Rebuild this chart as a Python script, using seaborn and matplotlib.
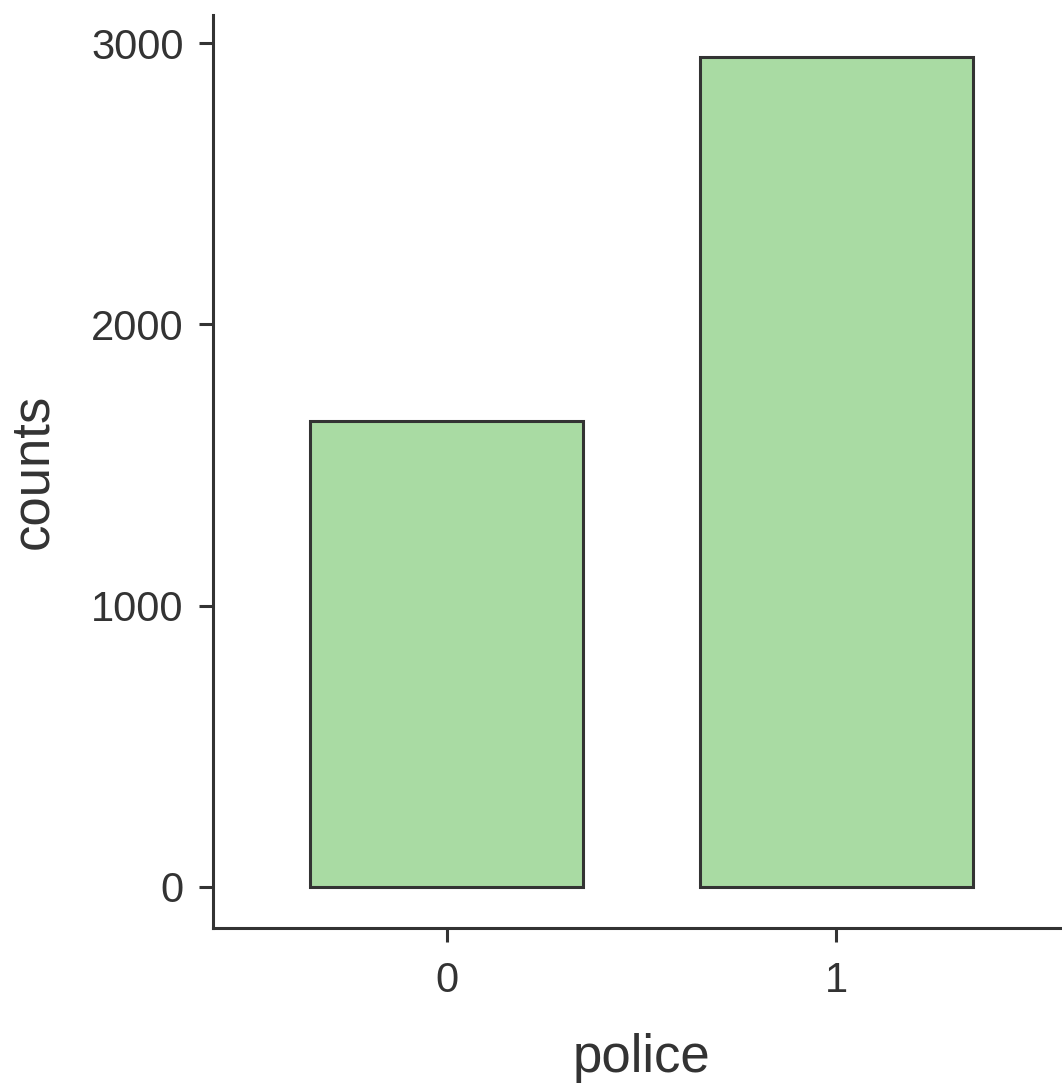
import matplotlib
matplotlib.use("Agg")
import matplotlib.pyplot as plt
import seaborn as sns
import pandas as pd

# значения
police = ["0", "1"]
counts = [1655, 2952]

BAR_COLOR = "#a9dba3"
DARK = "#333333"


def main():
    df = pd.DataFrame({"police": police, "counts": counts})

    sns.set_theme(style="ticks")
    plt.rcParams["font.family"] = ["Liberation Sans", "DejaVu Sans"]
    plt.rcParams["axes.edgecolor"] = DARK
    plt.rcParams["xtick.color"] = DARK
    plt.rcParams["ytick.color"] = DARK
    plt.rcParams["text.color"] = DARK
    plt.rcParams["axes.labelcolor"] = DARK

    fig = plt.figure(figsize=(10.62, 10.88), dpi=100)
    W, H = 1062, 1088
    ax = fig.add_axes([213 / W, 1 - 928 / H, (1070 - 213) / W, (928 - 15) / H])

    sns.barplot(data=df, x="police", y="counts", color=BAR_COLOR,
                edgecolor=DARK, linewidth=2.2, width=0.7, saturation=1, ax=ax)

    ax.set_xlim(-0.6, 1.6)
    ax.set_ylim(-146, 3100)
    ax.set_yticks([0, 1000, 2000, 3000])

    sns.despine(ax=ax)
    for s in ["left", "bottom"]:
        ax.spines[s].set_linewidth(2.2)
    ax.tick_params(axis="both", labelsize=30, length=10, width=2.2, pad=11)
    ax.tick_params(axis="x", pad=14)
    ax.set_xlabel("police", fontsize=38, labelpad=23)
    ax.set_ylabel("counts", fontsize=38, labelpad=24)

    fig.savefig("out.png", dpi=100)


if __name__ == "__main__":
    main()
